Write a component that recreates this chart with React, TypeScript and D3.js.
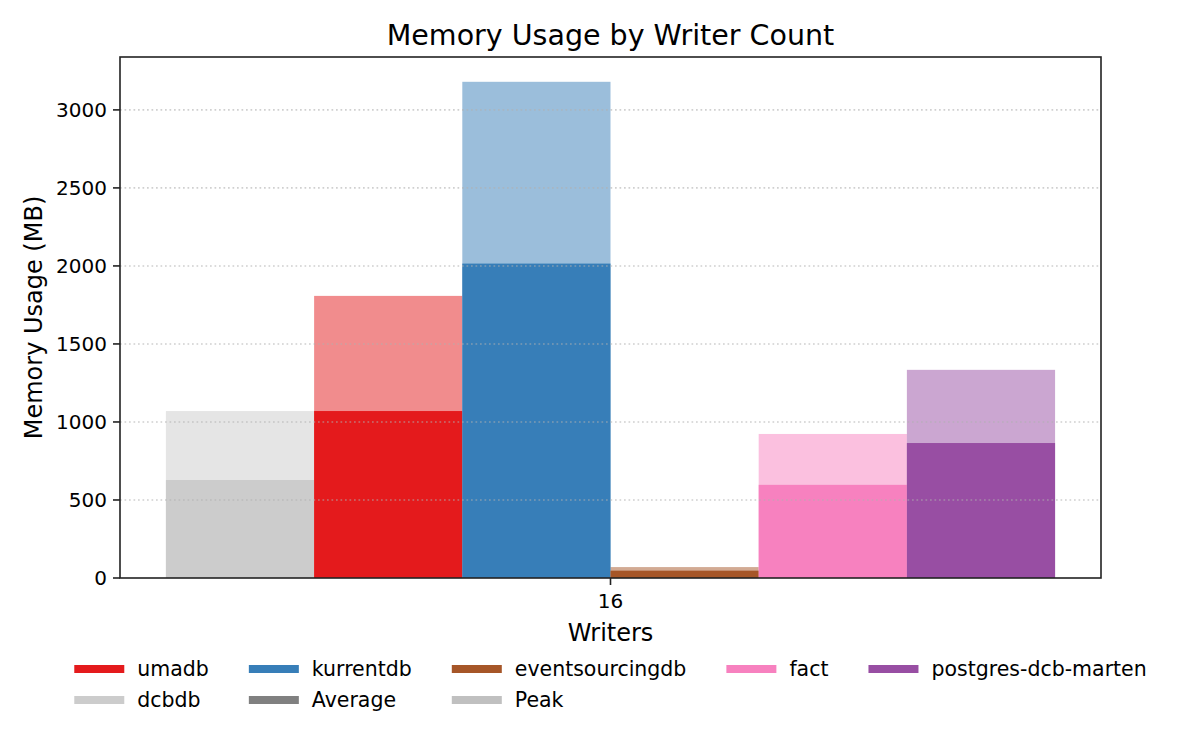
import React, { useEffect, useRef } from 'react';
import * as d3 from 'd3';

const writerCounts = ['16'];
const databases = ['dcbdb', 'umadb', 'kurrentdb', 'eventsourcingdb', 'fact', 'postgres-dcb-marten'];
const avgMemory = [628, 1070, 2015, 47, 597, 865];
const peakMemory = [1070, 1808, 3180, 70, 923, 1334];
const dbColors = ['#cccccc', '#e41a1c', '#377eb8', '#a65628', '#f781bf', '#984ea3'];
const yTicks = [0, 500, 1000, 1500, 2000, 2500, 3000];

// legend laid out like matplotlib's ncol=5 (column-major fill)
const legendColumns: { label: string; color: string }[][] = [
  [{ label: 'umadb', color: '#e41a1c' }, { label: 'dcbdb', color: '#cccccc' }],
  [{ label: 'kurrentdb', color: '#377eb8' }, { label: 'Average', color: '#808080' }],
  [{ label: 'eventsourcingdb', color: '#a65628' }, { label: 'Peak', color: '#c0c0c0' }],
  [{ label: 'fact', color: '#f781bf' }],
  [{ label: 'postgres-dcb-marten', color: '#984ea3' }]
];

const FONT = '"DejaVu Sans", sans-serif';

const MemoryChart: React.FC = () => {
  const svgRef = useRef<SVGSVGElement>(null);

  useEffect(() => {
    if (!svgRef.current) {
      return;
    }
    const svg = d3.select(svgRef.current);
    svg.selectAll('*').remove();

    const width = 1200;
    const height = 750;
    const left = 120;
    const right = 1101;
    const top = 57;
    const bottom = 578;

    svg.attr('width', width).attr('height', height).attr('viewBox', `0 0 ${width} ${height}`);
    svg.append('rect').attr('width', width).attr('height', height).attr('fill', '#ffffff');

    const barWidth = 0.15;
    const n = databases.length;
    const half = (n * barWidth) / 2;
    const x = d3.scaleLinear().domain([-half * 1.1033, half * 1.1033]).range([left, right]);
    const yMax = d3.max(peakMemory)! * 1.05;
    const y = d3.scaleLinear().domain([0, yMax]).range([bottom, top]);

    const rows = databases.map((db, i) => ({
      db,
      avg: avgMemory[i],
      peak: peakMemory[i],
      color: dbColors[i],
      offset: -half + i * barWidth
    }));

    writerCounts.forEach((_, gi) => {
      const g = svg.append('g');
      // peak behind, translucent
      g.selectAll('rect.peak')
        .data(rows)
        .enter()
        .append('rect')
        .attr('class', 'peak')
        .attr('x', (d) => x(gi + d.offset))
        .attr('width', (d) => x(gi + d.offset + barWidth) - x(gi + d.offset))
        .attr('y', (d) => y(d.peak))
        .attr('height', (d) => y(0) - y(d.peak))
        .attr('fill', (d) => d.color)
        .attr('fill-opacity', 0.5);
      g.selectAll('rect.avg')
        .data(rows)
        .enter()
        .append('rect')
        .attr('class', 'avg')
        .attr('x', (d) => x(gi + d.offset))
        .attr('width', (d) => x(gi + d.offset + barWidth) - x(gi + d.offset))
        .attr('y', (d) => y(d.avg))
        .attr('height', (d) => y(0) - y(d.avg))
        .attr('fill', (d) => d.color);
    });

    // horizontal grid, above bars like matplotlib
    svg
      .append('g')
      .selectAll('line')
      .data(yTicks.filter((t) => t > 0))
      .enter()
      .append('line')
      .attr('x1', left)
      .attr('x2', right)
      .attr('y1', (d) => y(d))
      .attr('y2', (d) => y(d))
      .attr('stroke', '#b0b0b0')
      .attr('stroke-opacity', 0.6)
      .attr('stroke-width', 1.6)
      .attr('stroke-dasharray', '1.7,2.8');

    // frame
    svg
      .append('rect')
      .attr('x', left)
      .attr('y', top)
      .attr('width', right - left)
      .attr('height', bottom - top)
      .attr('fill', 'none')
      .attr('stroke', '#222')
      .attr('stroke-width', 1.6);

    // y axis
    const yAxis = svg.append('g');
    yTicks.forEach((t) => {
      yAxis
        .append('line')
        .attr('x1', left - 7)
        .attr('x2', left)
        .attr('y1', y(t))
        .attr('y2', y(t))
        .attr('stroke', '#222')
        .attr('stroke-width', 1.6);
      yAxis
        .append('text')
        .attr('x', left - 13)
        .attr('y', y(t))
        .attr('dy', '0.36em')
        .attr('text-anchor', 'end')
        .attr('font-family', FONT)
        .attr('font-size', '20px')
        .attr('fill', '#000')
        .text(String(t));
    });

    // x axis
    writerCounts.forEach((w, gi) => {
      svg
        .append('line')
        .attr('x1', x(gi))
        .attr('x2', x(gi))
        .attr('y1', bottom)
        .attr('y2', bottom + 7)
        .attr('stroke', '#222')
        .attr('stroke-width', 1.6);
      svg
        .append('text')
        .attr('x', x(gi))
        .attr('y', 608)
        .attr('text-anchor', 'middle')
        .attr('font-family', FONT)
        .attr('font-size', '20px')
        .attr('fill', '#000')
        .text(w);
    });

    svg
      .append('text')
      .attr('x', (left + right) / 2)
      .attr('y', 641)
      .attr('text-anchor', 'middle')
      .attr('font-family', FONT)
      .attr('font-size', '24px')
      .attr('fill', '#000')
      .text('Writers');

    svg
      .append('text')
      .attr('transform', `translate(42, ${(top + bottom) / 2}) rotate(-90)`)
      .attr('text-anchor', 'middle')
      .attr('font-family', FONT)
      .attr('font-size', '24px')
      .attr('fill', '#000')
      .text('Memory Usage (MB)');

    svg
      .append('text')
      .attr('x', (left + right) / 2)
      .attr('y', 45)
      .attr('text-anchor', 'middle')
      .attr('font-family', FONT)
      .attr('font-size', '28.5px')
      .attr('fill', '#000')
      .text('Memory Usage by Writer Count');

    // legend below the axes
    const legend = svg.append('g');
    const handleW = 50;
    const handleH = 8;
    const textGap = 13;
    const colSpacing = 40;
    const rowY = [669, 700];
    let cx = 0;
    legendColumns.forEach((col) => {
      let maxW = 0;
      col.forEach((item, ri) => {
        legend
          .append('rect')
          .attr('x', cx)
          .attr('y', rowY[ri] - handleH / 2)
          .attr('width', handleW)
          .attr('height', handleH)
          .attr('fill', item.color);
        const t = legend
          .append('text')
          .attr('x', cx + handleW + textGap)
          .attr('y', rowY[ri])
          .attr('dy', '0.36em')
          .attr('font-family', FONT)
          .attr('font-size', '20.5px')
          .attr('fill', '#000')
          .text(item.label);
        const node = t.node() as SVGTextElement;
        maxW = Math.max(maxW, node.getComputedTextLength());
      });
      cx += handleW + textGap + maxW + colSpacing;
    });
    const totalW = cx - colSpacing;
    legend.attr('transform', `translate(${(left + right) / 2 - totalW / 2}, 0)`);
  }, []);

  return <svg ref={svgRef} style={{ display: 'block' }} />;
};

export default function App() {
  return (
    <div style={{ position: 'absolute', left: 0, top: 0 }}>
      <MemoryChart />
    </div>
  );
}
